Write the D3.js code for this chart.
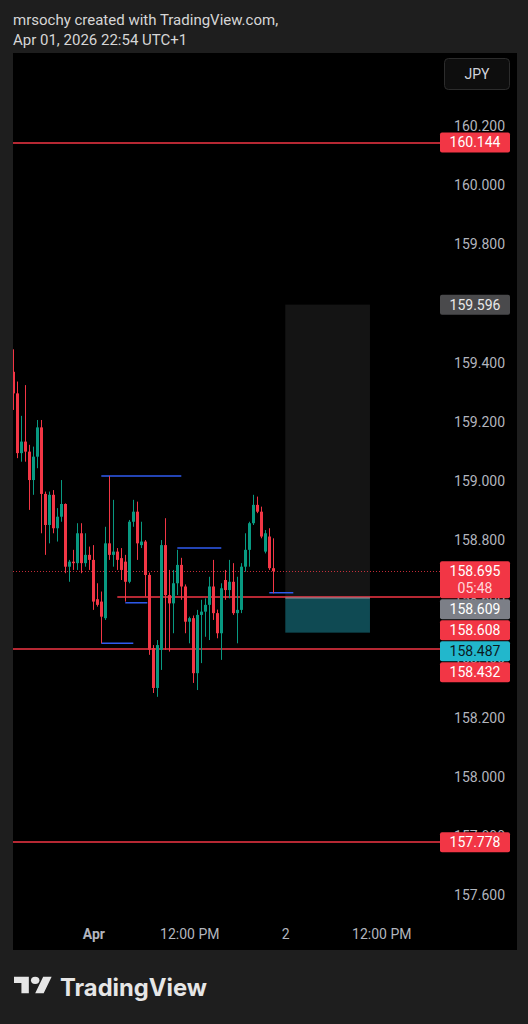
<!DOCTYPE html>
<meta charset="utf-8">
<style>
  body { margin: 0; background: #1e1e1e; }
  svg { display: block; font-family: Roboto, "Noto Sans", sans-serif; }
  .axis path, .axis line { display: none; }
  .axis text { fill: #b2b5be; font-size: 14px; font-family: Roboto, sans-serif; }
</style>
<body></body>
<script src="https://d3js.org/d3.v7.min.js"></script>
<script>

// 30 minute candles, USDJPY, starting Mar 31 14:00
var candleStart = Date.UTC(2026, 2, 31, 14, 0);
var opens  = [159.369,159.296,159.094,159.133,159.099,159.003,159.082,159.181,158.956,158.851,
              158.953,158.840,158.879,158.922,158.710,158.727,158.722,158.823,158.722,158.750,
              158.733,158.600,158.592,158.536,158.789,158.750,158.761,158.739,158.727,158.659,
              158.862,158.896,158.783,158.795,158.682,158.435,158.300,158.429,158.783,158.614,
              158.586,158.654,158.716,158.643,158.524,158.536,158.350,158.547,158.558,158.581,
              158.643,158.553,158.485,158.665,158.631,158.659,158.553,158.564,158.710,158.767,
              158.857,158.919,158.896,158.761,158.812,158.705];
var highs  = [159.445,159.336,159.220,159.324,159.122,159.116,159.206,159.206,158.964,158.964,
              158.969,158.908,159.003,158.924,158.733,158.767,158.857,158.857,158.823,158.778,
              158.783,158.654,158.626,158.845,159.017,158.936,158.773,158.773,158.750,158.868,
              158.936,158.930,158.862,158.800,158.690,158.445,158.462,158.800,158.874,158.699,
              158.699,158.767,158.740,158.650,158.541,158.545,158.564,158.598,158.603,158.676,
              158.733,158.565,158.654,158.699,158.733,158.722,158.676,158.722,158.823,158.862,
              158.953,158.947,158.913,158.834,158.840,158.806];
var lows   = [159.240,159.077,159.065,159.065,158.902,158.953,159.043,158.823,158.750,158.789,
              158.823,158.795,158.862,158.688,158.659,158.699,158.699,158.688,158.710,158.699,
              158.564,158.575,158.451,158.530,158.733,158.710,158.699,158.665,158.592,158.654,
              158.845,158.733,158.773,158.609,158.412,158.283,158.270,158.361,158.429,158.423,
              158.485,158.614,158.598,158.485,158.451,158.317,158.293,158.384,158.473,158.462,
              158.530,158.468,158.395,158.598,158.603,158.547,158.451,158.553,158.693,158.710,
              158.851,158.891,158.806,158.755,158.699,158.620];
var closes = [159.296,159.094,159.133,159.099,159.003,159.082,159.181,158.956,158.851,158.953,
              158.840,158.879,158.922,158.710,158.727,158.722,158.823,158.722,158.750,158.733,
              158.592,158.581,158.541,158.789,158.750,158.761,158.733,158.699,158.659,158.862,
              158.896,158.789,158.795,158.682,158.429,158.300,158.445,158.783,158.614,158.586,
              158.654,158.716,158.643,158.524,158.536,158.350,158.547,158.558,158.581,158.643,
              158.553,158.485,158.637,158.631,158.659,158.553,158.564,158.710,158.767,158.857,
              158.919,158.896,158.812,158.823,158.705,158.695];

var priceTicks = [160.2, 160.0, 159.8, 159.6, 159.4, 159.2, 159.0, 158.8, 158.6, 158.4, 158.2, 158.0, 157.8, 157.6];
var timeTicks = [Date.UTC(2026, 3, 1, 0), Date.UTC(2026, 3, 1, 12), Date.UTC(2026, 3, 2, 0), Date.UTC(2026, 3, 2, 12)];
var timeTickLabels = ["Apr", "12:00 PM", "2", "12:00 PM"];

// horizontal levels drawn across the whole chart
var levelPrices = [160.144, 158.432, 157.778];
// ray starting at a time
var rayPrice = 158.608, rayStart = Date.UTC(2026, 3, 1, 3, 0);

// blue segments: price, from, to
var segPrices = [159.017, 158.451, 158.588, 158.773, 158.622];
var segFrom = [Date.UTC(2026,3,1,1,0), Date.UTC(2026,3,1,1,0), Date.UTC(2026,3,1,4,0), Date.UTC(2026,3,1,10,30), Date.UTC(2026,3,1,22,0)];
var segTo   = [Date.UTC(2026,3,1,11,0), Date.UTC(2026,3,1,5,0), Date.UTC(2026,3,1,6,45), Date.UTC(2026,3,1,16,0), Date.UTC(2026,3,2,1,0)];

// position tool
var posEntry = 158.609, posTarget = 159.596, posStop = 158.487;
var posFrom = Date.UTC(2026, 3, 2, 0, 0), posTo = Date.UTC(2026, 3, 2, 10, 35);

var lastPrice = 158.695, countdown = "05:48";

var W = 528, H = 1024;
var panel = {left: 13, right: 517, top: 53, bottom: 950};
var scaleLeft = 440;

var svg = d3.select("body").append("svg")
    .attr("width", W)
    .attr("height", H);

svg.append("rect").attr("width", W).attr("height", H).attr("fill", "#1e1e1e");

// header
svg.append("text").attr("x", 13).attr("y", 25)
    .attr("fill", "#d6d6d6").attr("font-size", 15)
    .text("mrsochy created with TradingView.com,");
svg.append("text").attr("x", 13).attr("y", 45)
    .attr("fill", "#d6d6d6").attr("font-size", 15)
    .text("Apr 01, 2026 22:54 UTC+1");

svg.append("rect")
    .attr("x", panel.left).attr("y", panel.top)
    .attr("width", panel.right - panel.left).attr("height", panel.bottom - panel.top)
    .attr("fill", "#000");

var y = d3.scaleLinear().domain([157.6, 160.2]).range([895, 126]);
var x = d3.scaleUtc()
    .domain([new Date(candleStart), new Date(Date.UTC(2026, 3, 2, 18, 0))])
    .range([13.3, 429.3]);

svg.append("clipPath").attr("id", "plotclip")
  .append("rect")
    .attr("x", panel.left).attr("y", panel.top)
    .attr("width", scaleLeft - panel.left).attr("height", 915 - panel.top);

var plot = svg.append("g").attr("clip-path", "url(#plotclip)");

function py(p) { return Math.round(y(p)); }

// position tool areas
plot.append("rect")
    .attr("x", x(posFrom)).attr("width", x(posTo) - x(posFrom))
    .attr("y", y(posTarget)).attr("height", y(posEntry) - y(posTarget))
    .attr("fill", "#141414");
plot.append("rect")
    .attr("x", x(posFrom)).attr("width", x(posTo) - x(posFrom))
    .attr("y", y(posEntry)).attr("height", y(posStop) - y(posEntry))
    .attr("fill", "#0f4a53");

// levels
plot.selectAll(".level").data(levelPrices).enter().append("line")
    .attr("x1", panel.left).attr("x2", scaleLeft)
    .attr("y1", py).attr("y2", py)
    .attr("stroke", "#f23645").attr("stroke-width", 1.4);

plot.append("line")
    .attr("x1", x(rayStart)).attr("x2", scaleLeft)
    .attr("y1", py(rayPrice)).attr("y2", py(rayPrice))
    .attr("stroke", "#f23645").attr("stroke-width", 1.4);

plot.append("line")
    .attr("x1", x(posFrom)).attr("x2", x(posTo))
    .attr("y1", py(posEntry) + 1).attr("y2", py(posEntry) + 1)
    .attr("stroke", "#8f9299").attr("stroke-width", 1);

// last price dotted line
plot.append("line")
    .attr("x1", panel.left).attr("x2", scaleLeft)
    .attr("y1", py(lastPrice) + 0.5).attr("y2", py(lastPrice) + 0.5)
    .attr("stroke", "#f23645").attr("stroke-dasharray", "1,2").attr("opacity", 0.8);

// blue segments
plot.selectAll(".seg").data(segPrices).enter().append("line")
    .attr("x1", function (d, i) { return x(segFrom[i]); })
    .attr("x2", function (d, i) { return x(segTo[i]); })
    .attr("y1", function (d) { return y(d); })
    .attr("y2", function (d) { return y(d); })
    .attr("stroke", "#2f5bf0").attr("stroke-width", 1.5);

// candles
var up = "#089981", down = "#f23645";
var candles = plot.selectAll(".candle").data(opens).enter().append("g");
candles.append("line")
    .attr("x1", function (d, i) { return Math.round(x(candleStart + i * 1800000)) + 0.5; })
    .attr("x2", function (d, i) { return Math.round(x(candleStart + i * 1800000)) + 0.5; })
    .attr("y1", function (d, i) { return y(highs[i]); })
    .attr("y2", function (d, i) { return y(lows[i]); })
    .attr("stroke", function (d, i) { return closes[i] >= d ? up : down; });
candles.append("rect")
    .attr("x", function (d, i) { return Math.round(x(candleStart + i * 1800000)) - 1; })
    .attr("width", 3)
    .attr("y", function (d, i) { return y(Math.max(d, closes[i])); })
    .attr("height", function (d, i) { return Math.max(1, Math.abs(y(d) - y(closes[i]))); })
    .attr("fill", function (d, i) { return closes[i] >= d ? up : down; });

// price tags on the scale, stacked so they don't overlap
var tags = [
  {price: 160.144, fill: "#f23645", color: "#fff"},
  {price: 159.596, fill: "#4a4a4c", color: "#e8e8e8"},
  {price: lastPrice, fill: "#f23645", color: "#fff", sub: countdown},
  {price: posEntry, fill: "#7c7f87", color: "#fff"},
  {price: rayPrice, fill: "#f23645", color: "#fff"},
  {price: posStop, fill: "#22b7cc", color: "#0c1a1e"},
  {price: 158.432, fill: "#f23645", color: "#fff"},
  {price: 157.778, fill: "#f23645", color: "#fff"}
];
tags.sort(function (a, b) { return b.price - a.price; });
var prevBottom = -Infinity;
tags.forEach(function (t) {
  var top = y(t.price) - 10;
  var h = t.sub ? 37 : 20;
  if (top < prevBottom + 1) top = prevBottom + 1;
  t.top = top; t.h = h;
  prevBottom = top + h;
});

// scale labels hidden when a tag sits on top of them (the partly covered one stays)
var shownTicks = priceTicks.filter(function (p) {
  var ty = y(p);
  return !tags.some(function (t) { return ty - 6 > t.top && ty + 6 < t.top + t.h; });
});

// price axis
svg.append("g")
    .attr("class", "axis")
    .attr("transform", "translate(505,0)")
    .call(d3.axisRight(y).tickValues(shownTicks).tickFormat(d3.format(".3f")).tickSize(0).tickPadding(0))
    .selectAll("text").attr("text-anchor", "end");

// time axis
svg.append("g")
    .attr("class", "axis")
    .attr("transform", "translate(0,921)")
    .call(d3.axisBottom(x).tickValues(timeTicks.map(function (t) { return new Date(t); }))
      .tickFormat(function (d, i) { return timeTickLabels[i]; }).tickSize(0).tickPadding(8))
    .selectAll("text")
    .attr("fill", "#c8cad0")
    .attr("font-weight", function (d, i) { return i === 0 ? "bold" : null; });

// currency button
svg.append("rect").attr("x", 444.5).attr("y", 58.5).attr("width", 65).attr("height", 31).attr("rx", 4)
    .attr("fill", "#0e0e0e").attr("stroke", "#2c2c2c");
svg.append("text").attr("x", 477).attr("y", 74).attr("dy", "0.35em")
    .attr("text-anchor", "middle").attr("fill", "#d1d4dc").attr("font-size", 14).text("JPY");

var tagG = svg.selectAll(".tag").data(tags).enter().append("g");
tagG.append("rect")
    .attr("x", scaleLeft).attr("width", 70)
    .attr("y", function (d) { return d.top; })
    .attr("height", function (d) { return d.h; })
    .attr("rx", 2)
    .attr("fill", function (d) { return d.fill; });
tagG.append("text")
    .attr("x", 475).attr("y", function (d) { return d.top + 10; })
    .attr("dy", "0.35em").attr("text-anchor", "middle")
    .attr("font-size", 14)
    .attr("fill", function (d) { return d.color; })
    .text(function (d) { return d3.format(".3f")(d.price); });
tagG.filter(function (d) { return d.sub; }).append("text")
    .attr("x", 475).attr("y", function (d) { return d.top + 27; })
    .attr("dy", "0.35em").attr("text-anchor", "middle")
    .attr("font-size", 14)
    .attr("fill", "#ffd6da")
    .text(function (d) { return d.sub; });

// TradingView logo
var logo = svg.append("g").attr("transform", "translate(14,973) scale(1.06,0.92)").attr("fill", "#e6e6e6");
logo.append("path").attr("d", "M14 22H7V11H0V4h14v18zM28 22h-8l7.5-18h8L28 22z");
logo.append("circle").attr("cx", 20).attr("cy", 8).attr("r", 4);
svg.append("text").attr("x", 60).attr("y", 996)
    .attr("fill", "#e6e6e6").attr("font-size", 24).attr("font-weight", "bold")
    .attr("font-family", "Inter, Roboto, sans-serif")
    .attr("textLength", 147).attr("lengthAdjust", "spacingAndGlyphs")
    .text("TradingView");

</script>
